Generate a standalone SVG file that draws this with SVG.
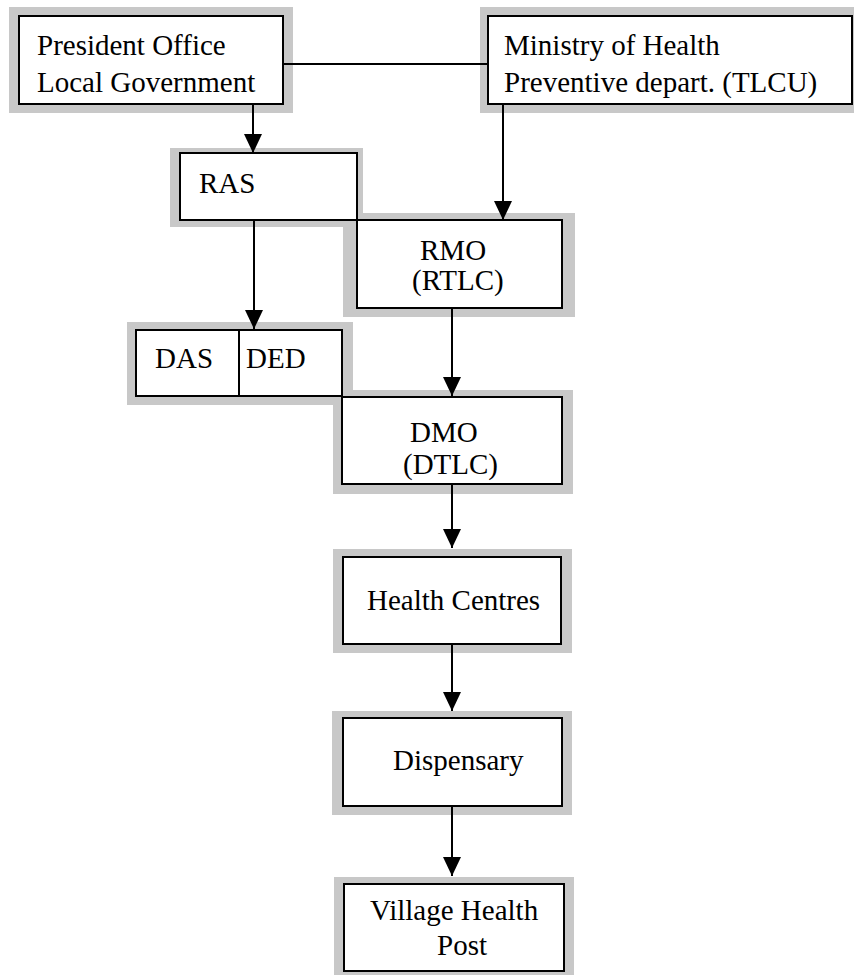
<svg xmlns="http://www.w3.org/2000/svg" width="854" height="975" viewBox="0 0 854 975">
<style>
.sh{fill:#c8c8c8;stroke:none}
.bx{fill:#fff;stroke:#000;stroke-width:2}
.t{font-family:'Liberation Serif',serif;font-size:29px;fill:#000}
.c{stroke:#000;stroke-width:2;fill:none}
</style>
<defs>
<marker id="ah" markerUnits="userSpaceOnUse" markerWidth="20" markerHeight="18" refX="19" refY="9" orient="auto">
<path d="M0,0 L19,9 L0,18 Z" fill="#000"/>
</marker>
</defs>
<rect width="854" height="975" fill="#fff"/>
<g id="shadows">
<rect class="sh" x="9" y="7" width="284" height="106"/>
<rect class="sh" x="480" y="7" width="374" height="106"/>
<rect class="sh" x="170" y="148" width="193" height="79"/>
<rect class="sh" x="343" y="213" width="232" height="104"/>
<rect class="sh" x="127" y="322" width="226" height="83"/>
<rect class="sh" x="333" y="390" width="240" height="104"/>
<rect class="sh" x="333" y="549" width="239" height="104"/>
<rect class="sh" x="332" y="711" width="240" height="104"/>
<rect class="sh" x="334" y="877" width="240" height="100"/>
</g>
<g id="president">
<rect class="bx" x="19" y="16" width="264" height="88"/>
<text class="t" x="37" y="55" font-family="Liberation Serif, serif">President Office</text>
<text class="t" x="37" y="92" font-family="Liberation Serif, serif">Local Government</text>
</g>
<g id="ministry">
<rect class="bx" x="488" y="16" width="364" height="88"/>
<text class="t" x="504" y="55" font-family="Liberation Serif, serif">Ministry of Health</text>
<text class="t" x="504" y="92" font-family="Liberation Serif, serif">Preventive depart. (TLCU)</text>
</g>
<g id="ras">
<rect class="bx" x="180" y="153" width="177" height="67"/>
<text class="t" x="199" y="193" font-family="Liberation Serif, serif">RAS</text>
</g>
<g id="rmo">
<rect class="bx" x="357" y="220" width="205" height="88"/>
<text class="t" x="420" y="260" font-family="Liberation Serif, serif">RMO</text>
<text class="t" x="412" y="290" font-family="Liberation Serif, serif">(RTLC)</text>
</g>
<g id="das-ded">
<rect class="bx" x="136" y="330" width="206" height="66"/>
<line x1="239" y1="330" x2="239" y2="396" stroke="#000" stroke-width="2"/>
<text class="t" x="155" y="368" font-family="Liberation Serif, serif">DAS</text>
<text class="t" x="246" y="368" font-family="Liberation Serif, serif">DED</text>
</g>
<g id="dmo">
<rect class="bx" x="342" y="397" width="220" height="87"/>
<text class="t" x="410" y="442" font-family="Liberation Serif, serif">DMO</text>
<text class="t" x="403" y="474" font-family="Liberation Serif, serif">(DTLC)</text>
</g>
<g id="health-centres">
<rect class="bx" x="343" y="557" width="218" height="87"/>
<text class="t" x="367" y="610" font-family="Liberation Serif, serif">Health Centres</text>
</g>
<g id="dispensary">
<rect class="bx" x="343" y="718" width="219" height="88"/>
<text class="t" x="393" y="770" font-family="Liberation Serif, serif">Dispensary</text>
</g>
<g id="village">
<rect class="bx" x="344" y="884" width="220" height="87"/>
<text class="t" x="370" y="920" font-family="Liberation Serif, serif">Village Health</text>
<text class="t" x="437" y="955" font-family="Liberation Serif, serif">Post</text>
</g>
<g id="connectors">
<line class="c" x1="283" y1="64" x2="488" y2="64"/>
<line class="c" x1="253" y1="104" x2="253" y2="153" marker-end="url(#ah)"/>
<line class="c" x1="503" y1="104" x2="503" y2="220" marker-end="url(#ah)"/>
<line class="c" x1="254" y1="220" x2="254" y2="329" marker-end="url(#ah)"/>
<line class="c" x1="452" y1="308" x2="452" y2="396" marker-end="url(#ah)"/>
<line class="c" x1="452" y1="484" x2="452" y2="548" marker-end="url(#ah)"/>
<line class="c" x1="452" y1="644" x2="452" y2="711" marker-end="url(#ah)"/>
<line class="c" x1="452" y1="806" x2="452" y2="876" marker-end="url(#ah)"/>
</g>
</svg>
